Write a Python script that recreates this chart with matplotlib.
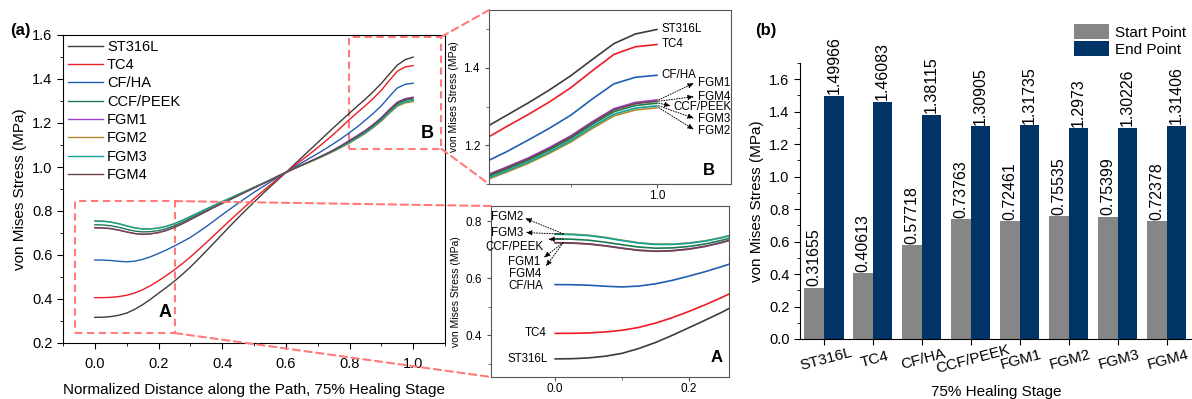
import matplotlib
matplotlib.use("Agg")
import matplotlib.pyplot as plt
from matplotlib.patches import Rectangle, ConnectionPatch
from matplotlib.ticker import MultipleLocator, FormatStrFormatter
import numpy as np

plt.rcParams["font.family"] = ["Liberation Sans", "DejaVu Sans"]

# ---- data -------------------------------------------------------------
materials = ["ST316L", "TC4", "CF/HA", "CCF/PEEK", "FGM1", "FGM2", "FGM3", "FGM4"]
start_vals = [0.31655, 0.40613, 0.57718, 0.73763, 0.72461, 0.75535, 0.75399, 0.72378]
end_vals = [1.49966, 1.46083, 1.38115, 1.30905, 1.31735, 1.2973, 1.30226, 1.31406]
start_text = ["0.31655", "0.40613", "0.57718", "0.73763", "0.72461", "0.75535", "0.75399", "0.72378"]
end_text = ["1.49966", "1.46083", "1.38115", "1.30905", "1.31735", "1.2973", "1.30226", "1.31406"]

dist = [0.000, 0.025, 0.050, 0.075, 0.100, 0.125, 0.150, 0.175, 0.200, 0.225,
        0.250, 0.275, 0.300, 0.325, 0.350, 0.375, 0.400, 0.425, 0.450, 0.475,
        0.500, 0.525, 0.550, 0.575, 0.600, 0.625, 0.650, 0.675, 0.700, 0.725,
        0.750, 0.775, 0.800, 0.825, 0.850, 0.875, 0.900, 0.925, 0.950, 0.975, 1.000]

st316l = [0.3166, 0.3172, 0.3200, 0.3260, 0.3360, 0.3530, 0.3740, 0.3990, 0.4260, 0.4530,
          0.4810, 0.5120, 0.5450, 0.5810, 0.6180, 0.6560, 0.6940, 0.7320, 0.7690, 0.8050,
          0.8400, 0.8750, 0.9090, 0.9420, 0.9750, 1.0090, 1.0430, 1.0770, 1.1110, 1.1450,
          1.1790, 1.2120, 1.2450, 1.2770, 1.3090, 1.3430, 1.3800, 1.4220, 1.4630, 1.4880, 1.4997]
tc4 = [0.4061, 0.4063, 0.4075, 0.4110, 0.4170, 0.4270, 0.4420, 0.4610, 0.4830, 0.5070,
       0.5330, 0.5610, 0.5910, 0.6230, 0.6560, 0.6900, 0.7240, 0.7580, 0.7910, 0.8240,
       0.8560, 0.8870, 0.9170, 0.9460, 0.9750, 1.0030, 1.0310, 1.0590, 1.0880, 1.1180,
       1.1490, 1.1820, 1.2160, 1.2480, 1.2790, 1.3120, 1.3490, 1.3930, 1.4350, 1.4550, 1.4608]
cfha = [0.5772, 0.5768, 0.5750, 0.5715, 0.5690, 0.5720, 0.5800, 0.5920, 0.6070, 0.6230,
        0.6410, 0.6600, 0.6800, 0.7040, 0.7290, 0.7560, 0.7830, 0.8090, 0.8350, 0.8600,
        0.8850, 0.9080, 0.9310, 0.9530, 0.9750, 0.9970, 1.0190, 1.0400, 1.0610, 1.0830,
        1.1060, 1.1300, 1.1560, 1.1830, 1.2130, 1.2440, 1.2780, 1.3200, 1.3590, 1.3760, 1.3812]
ccfpeek = [0.7376, 0.7365, 0.7330, 0.7260, 0.7170, 0.7090, 0.7050, 0.7060, 0.7110, 0.7200,
           0.7330, 0.7490, 0.7670, 0.7850, 0.8030, 0.8210, 0.8380, 0.8550, 0.8720, 0.8890,
           0.9060, 0.9230, 0.9400, 0.9580, 0.9750, 0.9920, 1.0080, 1.0240, 1.0400, 1.0570,
           1.0750, 1.0950, 1.1160, 1.1380, 1.1610, 1.1880, 1.2180, 1.2540, 1.2870, 1.3030, 1.3091]
fgm1 = [0.7246, 0.7235, 0.7203, 0.7137, 0.7053, 0.6980, 0.6946, 0.6964, 0.7022, 0.7119,
        0.7257, 0.7425, 0.7612, 0.7798, 0.7985, 0.8171, 0.8346, 0.8521, 0.8697, 0.8872,
        0.9047, 0.9221, 0.9395, 0.9577, 0.9750, 0.9923, 1.0087, 1.0250, 1.0414, 1.0590,
        1.0777, 1.0987, 1.1210, 1.1434, 1.1668, 1.1942, 1.2246, 1.2612, 1.2947, 1.3111, 1.3174]
fgm2 = [0.7554, 0.7543, 0.7504, 0.7429, 0.7330, 0.7241, 0.7192, 0.7192, 0.7231, 0.7310,
        0.7430, 0.7579, 0.7750, 0.7921, 0.8092, 0.8263, 0.8426, 0.8589, 0.8752, 0.8915,
        0.9078, 0.9242, 0.9407, 0.9584, 0.9750, 0.9915, 1.0071, 1.0226, 1.0380, 1.0542,
        1.0712, 1.0897, 1.1089, 1.1303, 1.1527, 1.1792, 1.2086, 1.2437, 1.2760, 1.2914, 1.2973]
fgm3 = [0.7540, 0.7529, 0.7491, 0.7416, 0.7318, 0.7229, 0.7181, 0.7181, 0.7222, 0.7302,
        0.7422, 0.7572, 0.7744, 0.7916, 0.8087, 0.8259, 0.8423, 0.8586, 0.8750, 0.8913,
        0.9076, 0.9241, 0.9407, 0.9583, 0.9750, 0.9917, 1.0075, 1.0232, 1.0388, 1.0554,
        1.0728, 1.0919, 1.1119, 1.1336, 1.1562, 1.1829, 1.2126, 1.2481, 1.2807, 1.2963, 1.3023]
fgm4 = [0.7238, 0.7227, 0.7195, 0.7129, 0.7046, 0.6973, 0.6940, 0.6958, 0.7016, 0.7114,
        0.7253, 0.7421, 0.7608, 0.7795, 0.7982, 0.8169, 0.8344, 0.8520, 0.8695, 0.8871,
        0.9046, 0.9220, 0.9394, 0.9577, 0.9750, 0.9922, 1.0084, 1.0246, 1.0409, 1.0582,
        1.0766, 1.0973, 1.1190, 1.1413, 1.1645, 1.1918, 1.2220, 1.2584, 1.2917, 1.3079, 1.3141]

series = [st316l, tc4, cfha, ccfpeek, fgm1, fgm2, fgm3, fgm4]
colors = ["#3c3c3c", "#ee1c24", "#1f5fb0", "#1b7a50", "#a040d0", "#b08a2a", "#12a39b", "#6e4646"]

W, H = 1192, 399
fig = plt.figure(figsize=(W / 100, H / 100), dpi=100)


def px_axes(l, t, r, b):
    return fig.add_axes([l / W, 1 - b / H, (r - l) / W, (b - t) / H])


# ---- (a) main line plot ----------------------------------------------
ax = px_axes(63, 35, 445, 343)
for name, ys, c in zip(materials, series, colors):
    ax.plot(dist, ys, color=c, lw=1.0, label=name)
ax.set_xlim(-0.1, 1.1)
ax.set_ylim(0.2, 1.6)
ax.xaxis.set_major_locator(MultipleLocator(0.2))
ax.xaxis.set_minor_locator(MultipleLocator(0.1))
ax.yaxis.set_major_locator(MultipleLocator(0.2))
ax.yaxis.set_minor_locator(MultipleLocator(0.1))
ax.xaxis.set_major_formatter(FormatStrFormatter("%.1f"))
ax.yaxis.set_major_formatter(FormatStrFormatter("%.1f"))
ax.tick_params(which="both", direction="out", labelsize=10.5)
ax.tick_params(which="major", length=4)
ax.tick_params(which="minor", length=2.5)
ax.tick_params(axis="x", pad=6)
ax.set_xlabel("Normalized Distance along the Path, 75% Healing Stage", fontsize=11, labelpad=9)
ax.set_ylabel("von Mises Stress (MPa)", fontsize=11, labelpad=4)
ax.legend(loc="upper left", bbox_to_anchor=(0.012, 0.985), frameon=False, fontsize=10.5,
          handlelength=2.4, handletextpad=0.3, labelspacing=0.3, borderaxespad=0, borderpad=0)

dash = (0, (3.5, 2.2))
pink = "#ff7a7a"
ax.add_patch(Rectangle((-0.062, 0.245), 0.314, 0.60, fill=False, ec=pink, lw=1.5, ls=dash))
ax.add_patch(Rectangle((0.797, 1.082), 0.292, 0.51, fill=False, ec=pink, lw=1.5, ls=dash))
ax.text(0.221, 0.34, "A", fontsize=13, fontweight="bold", ha="center", va="center")
ax.text(1.043, 1.153, "B", fontsize=13, fontweight="bold", ha="center", va="center")


def style_inset(a):
    for s in a.spines.values():
        s.set_color("#555555")
        s.set_linewidth(0.8)
    a.tick_params(which="both", direction="out", labelsize=8.5, color="#555555")
    a.tick_params(which="major", length=3)
    a.tick_params(which="minor", length=2)
    a.tick_params(axis="x", pad=1.5)
    a.set_ylabel("von Mises Stress (MPa)", fontsize=7.5, labelpad=3)


arrow_kw = dict(arrowstyle="-|>,head_length=0.35,head_width=0.15", color="black",
                lw=0.7, ls=":", shrinkA=0, shrinkB=0)
lab_fs = 8.3

# ---- inset B -----------------------------------------------------------
axB = px_axes(489, 10, 731, 184)
for ys, c in zip(series, colors):
    axB.plot(dist, ys, color=c, lw=1.2)
axB.set_xlim(0.805, 1.086)
axB.set_ylim(1.10, 1.55)
axB.xaxis.set_major_locator(MultipleLocator(0.2))
axB.xaxis.set_minor_locator(MultipleLocator(0.1))
axB.yaxis.set_major_locator(MultipleLocator(0.2))
axB.yaxis.set_minor_locator(MultipleLocator(0.1))
axB.xaxis.set_major_formatter(FormatStrFormatter("%.1f"))
axB.yaxis.set_major_formatter(FormatStrFormatter("%.1f"))
style_inset(axB)
for name, yv in [("ST316L", 1.500), ("TC4", 1.462), ("CF/HA", 1.381)]:
    axB.text(1.005, yv, name, fontsize=lab_fs, ha="left", va="center")
b_labels = [("FGM1", 1.048, 1.361, 1.043, 1.361, 1.3174),
            ("FGM4", 1.048, 1.325, 1.043, 1.326, 1.3141),
            ("CCF/PEEK", 1.019, 1.298, 1.016, 1.302, 1.3091),
            ("FGM3", 1.048, 1.267, 1.043, 1.270, 1.3023),
            ("FGM2", 1.048, 1.237, 1.043, 1.241, 1.2973)]
for name, tx, ty, hx, hy, cy in b_labels:
    axB.text(tx, ty, name, fontsize=lab_fs, ha="left", va="center")
    axB.annotate("", xy=(hx, hy), xytext=(1.002, cy), arrowprops=arrow_kw)
axB.text(1.06, 1.136, "B", fontsize=12, fontweight="bold", ha="center", va="center")

# ---- inset A -----------------------------------------------------------
axA = px_axes(491, 206, 729, 377)
for ys, c in zip(series, colors):
    axA.plot(dist, ys, color=c, lw=1.2)
axA.set_xlim(-0.096, 0.26)
axA.set_ylim(0.253, 0.853)
axA.xaxis.set_major_locator(MultipleLocator(0.2))
axA.xaxis.set_minor_locator(MultipleLocator(0.1))
axA.yaxis.set_major_locator(MultipleLocator(0.2))
axA.yaxis.set_minor_locator(MultipleLocator(0.1))
axA.xaxis.set_major_formatter(FormatStrFormatter("%.1f"))
axA.yaxis.set_major_formatter(FormatStrFormatter("%.1f"))
style_inset(axA)
for name, tx, yv in [("ST316L", -0.011, 0.3166), ("TC4", -0.013, 0.4061), ("CF/HA", -0.018, 0.573)]:
    axA.text(tx, yv, name, fontsize=lab_fs, ha="right", va="center")
a_labels = [("FGM2", -0.048, 0.813, -0.045, 0.810, 0.7554),
            ("FGM3", -0.048, 0.760, -0.044, 0.760, 0.7540),
            ("CCF/PEEK", -0.018, 0.710, -0.0105, 0.736, 0.7376),
            ("FGM1", -0.023, 0.656, -0.017, 0.672, 0.7246),
            ("FGM4", -0.020, 0.615, -0.014, 0.641, 0.7238)]
for name, tx, ty, hx, hy, cy in a_labels:
    axA.text(tx, ty, name, fontsize=lab_fs, ha="right", va="center")
    axA.annotate("", xy=(hx, hy), xytext=(0.012, cy), arrowprops=arrow_kw)
axA.text(0.242, 0.32, "A", fontsize=12, fontweight="bold", ha="center", va="center")

# connector lines
for xyA, axI, xyB in [((0.252, 0.845), axA, (0, 1)), ((0.252, 0.245), axA, (0, 0)),
                      ((1.089, 1.592), axB, (0, 1)), ((1.089, 1.082), axB, (0, 0))]:
    con = ConnectionPatch(xyA=xyA, coordsA=ax.transData, xyB=xyB, coordsB=axI.transAxes,
                          color=pink, lw=1.5, ls=dash)
    fig.add_artist(con)

# ---- (b) bar chart ----------------------------------------------------
axb = px_axes(800, 63, 1192, 339)
x = np.arange(len(materials))
bw = 0.4
b1 = axb.bar(x - bw / 2, start_vals, bw, color="#868686", label="Start Point")
b2 = axb.bar(x + bw / 2, end_vals, bw, color="#003366", label="End Point")
axb.bar_label(b1, labels=start_text, rotation=90, fontsize=11.5, padding=1)
axb.bar_label(b2, labels=end_text, rotation=90, fontsize=11.5, padding=1)
axb.set_xlim(-0.49, 7.52)
axb.set_ylim(0, 1.7)
axb.yaxis.set_major_locator(MultipleLocator(0.2))
axb.yaxis.set_minor_locator(MultipleLocator(0.1))
axb.yaxis.set_major_formatter(FormatStrFormatter("%.1f"))
axb.set_xticks(x)
axb.set_xticklabels(materials, rotation=15, ha="center", va="top", rotation_mode="anchor")
axb.spines["top"].set_visible(False)
axb.spines["right"].set_visible(False)
axb.tick_params(which="both", direction="out", labelsize=10.5)
axb.tick_params(axis="x", labelsize=11, pad=6)
axb.tick_params(which="major", length=4)
axb.tick_params(which="minor", length=2.5)
axb.set_xlabel("75% Healing Stage", fontsize=11, labelpad=6)
axb.set_ylabel("von Mises Stress (MPa)", fontsize=11, labelpad=4)
fig.legend(handles=[b1, b2], loc="upper left", bbox_to_anchor=(1074 / W, 1 - 24 / H),
           frameon=False, fontsize=11, handlelength=2.3, handleheight=1.1,
           handletextpad=0.4, labelspacing=0.1, borderpad=0, borderaxespad=0)

fig.text(10 / W, 1 - 31 / H, "(a)", fontsize=12, fontweight="bold", va="center", ha="left")
fig.text(755 / W, 1 - 30 / H, "(b)", fontsize=12, fontweight="bold", va="center", ha="left")

fig.savefig("out.png", dpi=100)
